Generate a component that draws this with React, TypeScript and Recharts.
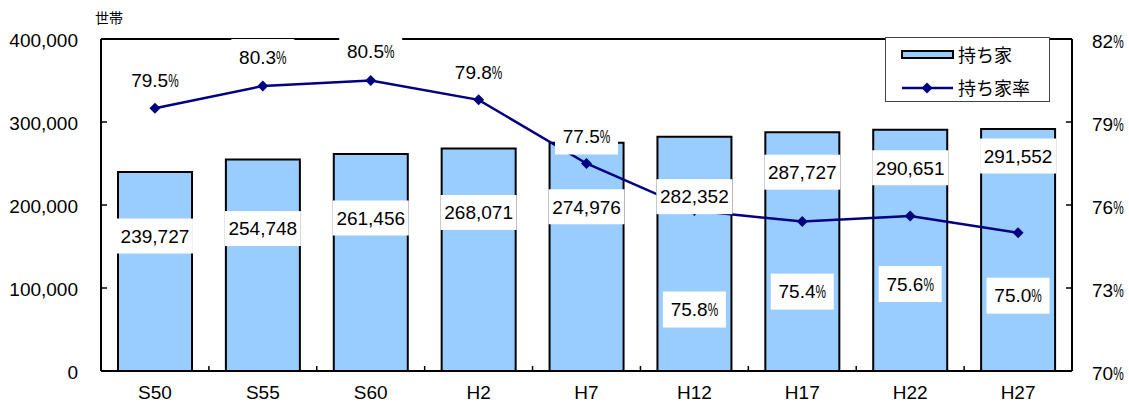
import React from 'react';
import { ComposedChart, Bar, Line, XAxis, YAxis, CartesianGrid, LabelList, Legend } from 'recharts';

const categories = ['S50', 'S55', 'S60', 'H2', 'H7', 'H12', 'H17', 'H22', 'H27'];
const households = [239727, 254748, 261456, 268071, 274976, 282352, 287727, 290651, 291552];
const ownershipRate = [79.5, 80.3, 80.5, 79.8, 77.5, 75.8, 75.4, 75.6, 75.0];
const leftTicks = [0, 100000, 200000, 300000, 400000];
const rightTicks = [70, 73, 76, 79, 82];
const valueLabelOffsets = [64, 69, 64, 64, 64, 60, 40, 38, 27];
const rateLabelOffsets = [-28, -29, -29, -28, -27, 99, 70, 68, 63];

const data = categories.map((c, i) => ({ cat: c, households: households[i], rate: ownershipRate[i] }));

const W = 1129;
const H = 403;
const LEFT_W = 101;
const RIGHT_W = 57;
const TOP = 39;
const BOTTOM_H = 32;
const STEP = (W - LEFT_W - RIGHT_W) / categories.length;

const NUM_FONT = '"Liberation Sans", Arial, sans-serif';
const CJK_FONT = '"Noto Sans CJK JP", sans-serif';
const FS = 19;
const BLUE = '#99CCFF';
const NAVY = '#000080';

const fmt = (v: number) => String(v).replace(/\B(?=(\d{3})+(?!\d))/g, ',');

const digitsWidth = (s: string, fs: number) =>
  s.split('').reduce((a, ch) => a + (ch === '.' || ch === ',' ? 0.278 : 0.556), 0) * fs;

const PCT_W = 10.5;
const PCT_SCALE = PCT_W / (0.889 * FS);

const PctText = ({ x, baseline, str, anchor }: { x: number; baseline: number; str: string; anchor: 'middle' | 'start' }) => {
  const w = digitsWidth(str, FS);
  const total = w + PCT_W;
  const start = anchor === 'middle' ? x - total / 2 : x;
  return (
    <g fontFamily={NUM_FONT} fontSize={FS} fill="#000">
      <text x={start} y={baseline} textAnchor="start">{str}</text>
      <text
        x={0}
        y={0}
        textAnchor="start"
        transform={`translate(${start + w},${baseline}) scale(${PCT_SCALE},1)`}
      >
        %
      </text>
    </g>
  );
};

const LeftTick = (props: any) => {
  const { x, y, payload } = props;
  return (
    <g>
      <line x1={x} x2={x + 6} y1={y} y2={y} stroke="#000" strokeWidth={1.5} />
      <text x={x - 23} y={y + 8} textAnchor="end" fontFamily={NUM_FONT} fontSize={FS} fill="#000">
        {fmt(payload.value)}
      </text>
    </g>
  );
};

const RightTick = (props: any) => {
  const { x, y, payload } = props;
  return (
    <g>
      <line x1={x - 6} x2={x} y1={y} y2={y} stroke="#000" strokeWidth={1.5} />
      <PctText x={x + 20} baseline={y + 8.5} str={String(payload.value)} anchor="start" />
    </g>
  );
};

const XTick = (props: any) => {
  const { x, y, payload, index } = props;
  return (
    <g>
      {index < categories.length - 1 && (
        <line x1={x + STEP / 2} x2={x + STEP / 2} y1={y} y2={y - 5} stroke="#000" strokeWidth={1.5} />
      )}
      <text x={x} y={y + 28} textAnchor="middle" fontFamily={NUM_FONT} fontSize={FS} fill="#000">
        {payload.value}
      </text>
    </g>
  );
};

const Diamond = (props: any) => {
  const { cx, cy } = props;
  if (cx == null || cy == null) return null;
  const r = 5.5;
  return <path d={`M${cx},${cy - r} L${cx + r},${cy} L${cx},${cy + r} L${cx - r},${cy} Z`} fill={NAVY} />;
};

const ValueLabel = (props: any) => {
  const { x, y, value, index } = props;
  const cy = y + valueLabelOffsets[index];
  return (
    <g>
      <rect x={x - 38} y={cy - 17.5} width={76} height={35} fill="#fff" />
      <text x={x} y={cy + 6.8} textAnchor="middle" fontFamily={NUM_FONT} fontSize={FS} fill="#000">
        {fmt(value)}
      </text>
    </g>
  );
};

const RateLabel = (props: any) => {
  const { x, y, value, index } = props;
  const cy = y + rateLabelOffsets[index];
  return (
    <g>
      <rect x={x - 31.5} y={cy - 18} width={63} height={36} fill="#fff" />
      <PctText x={x} baseline={cy + 6.8} str={Number(value).toFixed(1)} anchor="middle" />
    </g>
  );
};

const UnitLabel = (props: any) => {
  const { viewBox } = props;
  const vx = viewBox ? viewBox.x + viewBox.width : LEFT_W;
  const vy = viewBox ? viewBox.y : TOP;
  return (
    <text x={vx + 8} y={vy - 16} textAnchor="middle" fontFamily={CJK_FONT} fontSize={14} fill="#000">
      世帯
    </text>
  );
};

const LegendBox = () => {
  const r = 5.5;
  return (
    <div
      style={{
        width: 165,
        height: 65,
        boxSizing: 'border-box',
        border: '1px solid #444',
        background: '#fff',
        position: 'relative',
      }}
    >
      <svg width={165} height={65} style={{ position: 'absolute', left: -1, top: -1 }}>
        <rect x={17} y={14} width={51} height={7} fill={BLUE} stroke="#000" strokeWidth={2} />
        <text x={73} y={24.5} fontFamily={CJK_FONT} fontSize={18} fill="#000">持ち家</text>
        <line x1={17} x2={68} y1={51} y2={51} stroke={NAVY} strokeWidth={2.5} />
        <path d={`M42,${51 - r} L${42 + r},51 L42,${51 + r} L${42 - r},51 Z`} fill={NAVY} />
        <text x={73} y={57.5} fontFamily={CJK_FONT} fontSize={18} fill="#000">持ち家率</text>
      </svg>
    </div>
  );
};

export default function App() {
  return (
    <div style={{ position: 'absolute', left: 0, top: 0, width: W, height: H, background: '#fff' }}>
      <ComposedChart width={W} height={H} data={data} margin={{ top: TOP, right: 0, bottom: 0, left: 0 }}>
        <CartesianGrid
          vertical={false}
          horizontal={true}
          stroke="#000"
          strokeWidth={2}
          strokeDasharray=""
          horizontalCoordinatesGenerator={(args: any) => [args.offset.top]}
        />
        <XAxis
          dataKey="cat"
          height={BOTTOM_H}
          interval={0}
          tickLine={false}
          tickSize={0}
          tickMargin={0}
          tick={<XTick />}
          axisLine={{ stroke: '#000', strokeWidth: 2 }}
        />
        <YAxis
          yAxisId="left"
          orientation="left"
          width={LEFT_W}
          domain={[0, 400000]}
          ticks={leftTicks}
          interval={0}
          tickLine={false}
          tickSize={0}
          tickMargin={0}
          tick={<LeftTick />}
          axisLine={{ stroke: '#000', strokeWidth: 2 }}
          label={<UnitLabel />}
        />
        <YAxis
          yAxisId="right"
          orientation="right"
          width={RIGHT_W}
          domain={[70, 82]}
          ticks={rightTicks}
          interval={0}
          tickLine={false}
          tickSize={0}
          tickMargin={0}
          tick={<RightTick />}
          axisLine={{ stroke: '#000', strokeWidth: 2 }}
        />
        <Legend
          layout="horizontal"
          verticalAlign="middle"
          align="center"
          content={<LegendBox />}
          wrapperStyle={{ left: 885, top: 37, width: 165, height: 65 }}
        />
        <Bar
          yAxisId="left"
          dataKey="households"
          name="持ち家"
          fill={BLUE}
          stroke="#000"
          strokeWidth={2}
          barSize={74}
          isAnimationActive={false}
        />
        <Line
          yAxisId="right"
          dataKey="rate"
          name="持ち家率"
          type="linear"
          stroke={NAVY}
          strokeWidth={2.5}
          dot={<Diamond />}
          activeDot={false}
          isAnimationActive={false}
        />
        <Line
          yAxisId="left"
          dataKey="households"
          stroke="none"
          dot={false}
          activeDot={false}
          legendType="none"
          isAnimationActive={false}
        >
          <LabelList dataKey="households" content={<ValueLabel />} />
        </Line>
        <Line
          yAxisId="right"
          dataKey="rate"
          stroke="none"
          dot={false}
          activeDot={false}
          legendType="none"
          isAnimationActive={false}
        >
          <LabelList dataKey="rate" content={<RateLabel />} />
        </Line>
      </ComposedChart>
    </div>
  );
}
